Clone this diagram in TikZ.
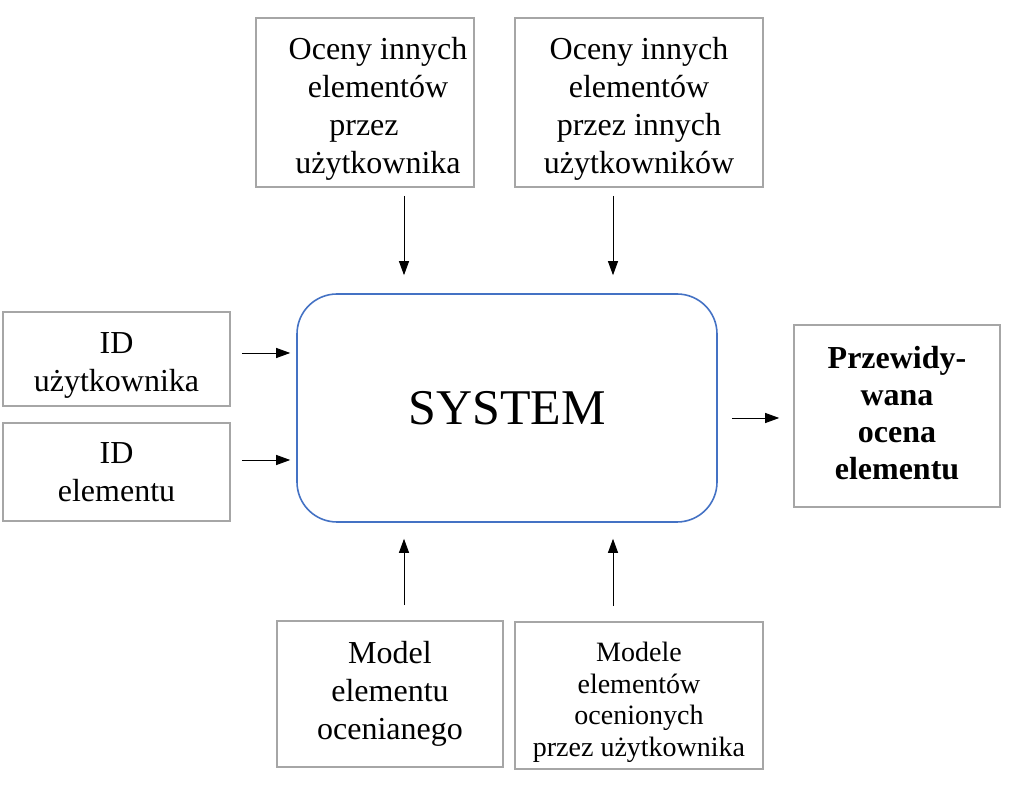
\documentclass[tikz,border=0pt]{standalone}
\usepackage{fontspec}
\setmainfont{Liberation Serif}
\usetikzlibrary{arrows.meta}
\definecolor{boxgray}{HTML}{A6A6A6}
\definecolor{sysblue}{HTML}{4472C4}
\begin{document}
\begin{tikzpicture}[x=1pt,y=1pt,
  box/.style={draw=boxgray,line width=1.6pt,inner sep=0pt},
  lbl/.style={inner sep=0pt,align=center,font=\fontsize{32}{38}\selectfont},
  arr/.style={line width=0.9pt,-{Triangle[length=14pt,width=10pt]}}]
\useasboundingbox (0,0) rectangle (1014,784);
\node[box,minimum width=218,minimum height=169,
  label={[lbl,yshift=-6,xshift=13]center:{Oceny innych\\elementów\\przez\kern28pt\\użytkownika}}] (tl) at (365,681.5) {};
\node[box,minimum width=248,minimum height=169,
  label={[lbl,yshift=-6]center:{Oceny innych\\elementów\\przez innych\\użytkowników}}] (tr) at (639,681.5) {};
\node[box,minimum width=227,minimum height=94,
  label={[lbl,yshift=-6]center:{ID\\użytkownika}}] (l1) at (116.5,425) {};
\node[box,minimum width=227,minimum height=98,
  label={[lbl]center:{ID\\elementu}}] (l2) at (116.5,312) {};
\node[draw=sysblue,line width=1.6pt,rounded corners=40pt,minimum width=420,
  minimum height=228,inner sep=0pt,font=\fontsize{50}{60}\selectfont] (sys) at (507,376) {SYSTEM};
\node[box,minimum width=206,minimum height=182,
  label={[lbl,yshift=3,font=\fontsize{32}{37}\selectfont\bfseries]center:{Przewidy-\\wana\\ocena\\elementu}}] (r) at (897,368) {};
\node[box,minimum width=226,minimum height=146,
  label={[lbl]center:{Model\\elementu\\ocenianego}}] (bl) at (390,90) {};
\node[box,minimum width=248,minimum height=147,
  label={[lbl,yshift=-7,font=\fontsize{28}{31.5}\selectfont]center:{Modele\\elementów\\ocenionych\\przez użytkownika}}] (br) at (639,88.5) {};
\coordinate (xa) at (404,0);
\coordinate (xb) at (613,0);
\coordinate (y1) at (0,431);
\coordinate (y2) at (0,324);
\coordinate (y3) at (0,366);
\draw[arr,shorten <=8pt,shorten >=18pt] (tl.south -| xa) -- (sys.north -| xa);
\draw[arr,shorten <=8pt,shorten >=18pt] (tr.south -| xb) -- (sys.north -| xb);
\draw[arr,shorten <=11pt,shorten >=6pt] (l1.east |- y1) -- (sys.west |- y1);
\draw[arr,shorten <=11pt,shorten >=6pt] (l2.east |- y2) -- (sys.west |- y2);
\draw[arr,shorten <=14pt,shorten >=14pt] (sys.east |- y3) -- (r.west |- y3);
\draw[arr,shorten <=15pt,shorten >=16pt] (bl.north -| xa) -- (sys.south -| xa);
\draw[arr,shorten <=15pt,shorten >=16pt] (br.north -| xb) -- (sys.south -| xb);
\end{tikzpicture}
\end{document}
